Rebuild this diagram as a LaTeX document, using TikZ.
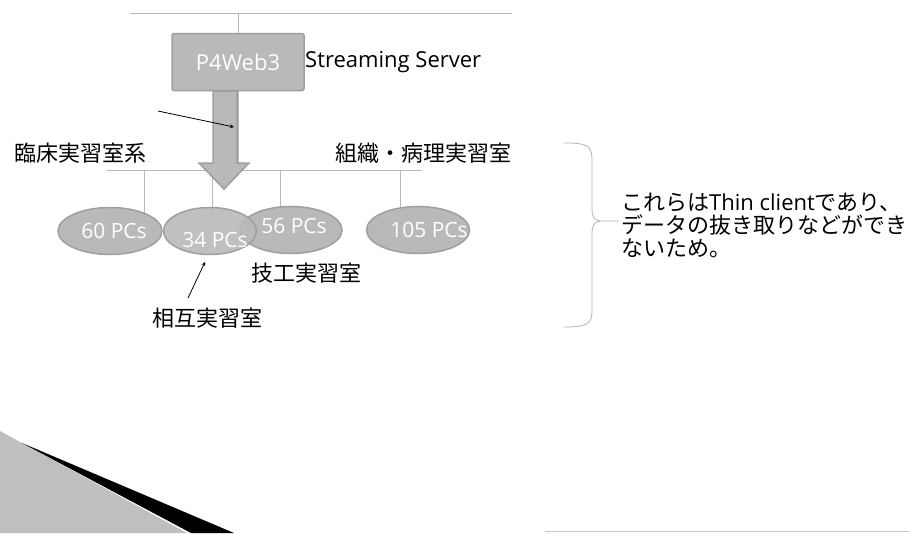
\documentclass[tikz,border=0pt]{standalone}
\usepackage{fontspec}
\newfontfamily\jpfont{Noto Sans CJK JP}
\newfontfamily\latfont{Open Sans}
\usetikzlibrary{shapes,arrows}

\newcommand{\pctext}[3]{\raisebox{#2}[0pt][0pt]{\makebox[0pt]{\hspace*{#1}#3}}}

\begin{document}
\begin{tikzpicture}[x=1pt,y=-1pt]
    \tikzstyle{edge}  = [draw=gray!55,line width=0.8pt]
    \tikzstyle{dedge} = [thick,->,>=stealth,draw=black]
    \tikzstyle{pc}=[
      ellipse,
      fill=gray!55,
      draw=gray!75,
      line width=1.5pt,
      minimum height=47pt,
      inner sep=0pt,
      text=white,
      font=\latfont\fontsize{21}{21}\selectfont,
    ]
    \tikzstyle{lbl}=[font=\jpfont\fontsize{22}{23}\selectfont,inner sep=0pt]

    \useasboundingbox (0,0) rectangle (909,533);

    % corner decoration
    \fill[gray!50] (0,431) -- (187,533) -- (0,533) -- cycle;
    \fill[black] (22,443) -- (234,533) -- (191,533) -- cycle;
    \draw[gray!45,line width=1pt] (545,531) -- (909,531);

    % lines
    \coordinate (tl) at (130,13);
    \coordinate (tr) at (512,13);
    \coordinate (tm) at (238,13);
    \coordinate (bl) at (107,170);
    \coordinate (br) at (422,170);
    \coordinate (bm) at (238,170);
    \coordinate (d1) at (144,170);
    \coordinate (d2) at (212,170);
    \coordinate (d3) at (280,170);
    \coordinate (d4) at (400,170);

    \node[rectangle,fill=gray!55,draw=gray!75,line width=1.5pt,rounded corners=2pt,
      minimum width=132pt,minimum height=57pt,text=white,
      font=\latfont\fontsize{22}{22}\selectfont] (srv) at (238,62) {P4Web3};
    \node[anchor=west,inner sep=0pt,font=\latfont\fontsize{22}{22}\selectfont] (stream) at (305,62) {Streaming Server};

    \draw[edge] (tl)--(tr);
    \draw[edge] (tm)--(srv.north);
    \draw[edge] (srv.south)--(bm);
    \draw[edge] (bl)--(br);
    \draw[edge] (d1)--++(0,45);
    \draw[edge] (d2)--++(0,45);
    \draw[edge] (d3)--++(0,45);
    \draw[edge] (d4)--++(0,45);

    % big arrow
    \filldraw[fill=gray!55,draw=gray!75,line width=1.5pt]
      (213,91) -- (237,91) -- (237,163) -- (249,163) -- (224,189)
      -- (199,163) -- (213,163) -- cycle;

    \node[pc,minimum width=104pt] (p60) at (110,231) {\pctext{8pt}{-7.5pt}{60 PCs}};
    \node[pc,minimum width=102pt] (p56) at (291,230) {\pctext{6pt}{-3.5pt}{56 PCs}};
    \node[pc,minimum width=93pt,fill opacity=0.9,text opacity=1] (p34) at (210,231) {\pctext{10pt}{-16pt}{34 PCs}};
    \node[pc,minimum width=103pt] (p105) at (418,230) {\pctext{22pt}{-7.5pt}{105 PCs}};

    \node[lbl] (rinsho) at (80,153) {臨床実習室系};
    \node[lbl] (soshiki) at (423,153) {組織・病理実習室};
    \node[lbl] (giko) at (306,273) {技工実習室};
    \node[lbl] (sogo) at (207,318) {相互実習室};

    \coordinate (a1) at (158,111);
    \coordinate (a2) at (234,127);
    \draw[dedge] (a1)--(a2);
    \coordinate (b1) at (188,298);
    \coordinate (b2) at (205,262);
    \draw[dedge] (b1)--(b2);

    % brace
    \draw[gray!60,line width=0.8pt] (564,143) .. controls (586,143) and (592,145) .. (592,160)
      -- (592,208) .. controls (592,217) and (594,220) .. (600,221) -- (619,221);
    \draw[gray!60,line width=0.8pt] (600,221) .. controls (594,222) and (592,225) .. (592,234)
      -- (592,312) .. controls (592,324) and (586,327) .. (564,327);

    \node[lbl,anchor=west,align=left] (note) at (621,225)
      {これらは{\latfont Thin client}であり、\\データの抜き取りなどができ\\ないため。};
\end{tikzpicture}
\end{document}
